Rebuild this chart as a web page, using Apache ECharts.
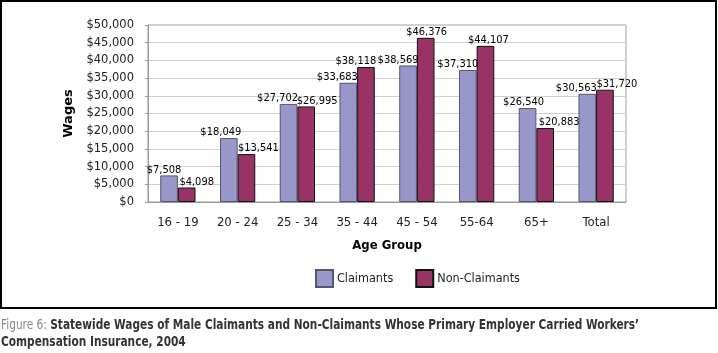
<!DOCTYPE html>
<html><head><meta charset="utf-8">
<script src="https://cdn.jsdelivr.net/npm/echarts@6/dist/echarts.min.js"></script>
<style>html,body{margin:0;padding:0;background:#fff}#c{width:718px;height:353px}</style>
</head><body><div id="c"></div>
<script>
const categories = ['16 - 19','20 - 24','25 - 34','35 - 44','45 - 54','55-64','65+','Total'];
const claimants = [7508,18049,27702,33683,38569,37310,26540,30563];
const nonClaimants = [4098,13541,26995,38118,46376,44107,20883,31720];
const yTicks = [0,5000,10000,15000,20000,25000,30000,35000,40000,45000,50000];
const seriesNames = ['Claimants','Non-Claimants'];

// label nudges (styling only), in px, as placed in the original
const claimLabelShift = [-5,-8,-11,-11,-10,-10,-4,-11];
const nonLabelShift = [10,12,11,-10,1,3,14,12];

const fmt = v => '$' + Number(v).toLocaleString('en-US');
const condensed = '"Liberation Sans Narrow","DejaVu Sans Condensed",sans-serif';
const labelFont = '"DejaVu Sans Condensed",sans-serif';

function withLabels(vals, shifts){
  return vals.map((v,i)=>({value:v,label:{offset:[shifts[i],0]}}));
}

const chart = echarts.init(document.getElementById('c'));
chart.setOption({
  animation:false,
  backgroundColor:'#fff',
  graphic:[
    {type:'rect', shape:{x:1,y:1,width:715,height:307}, style:{fill:'none',stroke:'#000',lineWidth:2}, z:-1},
    {type:'text', x:1, y:317, scaleX:0.84, scaleY:1, style:{
      text:'{g|Figure 6: }{b|Statewide Wages of Male Claimants and Non-Claimants Whose Primary Employer Carried Workers\u2019}\n{b|Compensation Insurance, 2004}',
      rich:{
        g:{fill:'#888', fontFamily:condensed, fontSize:14, lineHeight:17},
        b:{fill:'#333', fontFamily:condensed, fontSize:14, fontWeight:'bold', lineHeight:17}
      }}}
  ],
  grid:{left:148,right:92,top:25,bottom:151,show:true,borderColor:'#a0a0a0',borderWidth:1},
  legend:{left:315,top:269,padding:0,itemWidth:17,itemHeight:17,itemGap:22,icon:'rect',
    data:seriesNames,
    textStyle:{fontFamily:condensed,fontSize:12.5,color:'#222',padding:[0,0,0,-1]}},
  xAxis:{type:'category',data:categories,
    name:'Age Group',nameLocation:'middle',nameGap:37,
    nameTextStyle:{fontFamily:condensed,fontSize:13,fontWeight:'bold',color:'#000'},
    axisLine:{lineStyle:{color:'#999'}},
    axisTick:{length:5,lineStyle:{color:'#999'}},
    axisLabel:{fontFamily:condensed,fontSize:13,color:'#222',margin:14}},
  yAxis:{type:'value',min:yTicks[0],max:yTicks[yTicks.length-1],interval:5000,
    name:'Wages',nameLocation:'middle',nameGap:67,nameRotate:90,
    nameTextStyle:{fontFamily:'"DejaVu Sans",sans-serif',fontSize:13,fontWeight:'bold',color:'#000'},
    axisLine:{show:true,lineStyle:{color:'#999'}},
    axisTick:{show:true,length:3,lineStyle:{color:'#999'}},
    splitLine:{lineStyle:{color:'#d0d0d0'}},
    axisLabel:{formatter:fmt,fontFamily:'"DejaVu Sans",sans-serif',fontSize:11.5,color:'#222',margin:14}},
  series:[
    {name:seriesNames[0],type:'bar',data:withLabels(claimants,claimLabelShift),barGap:'0%',barCategoryGap:'41%',
      itemStyle:{color:'#9797CA',borderColor:'#555570',borderWidth:1},
      label:{show:true,position:'top',distance:0,formatter:p=>fmt(p.value),
        fontFamily:labelFont,fontSize:11,color:'#000'}},
    {name:seriesNames[1],type:'bar',data:withLabels(nonClaimants,nonLabelShift),
      itemStyle:{color:'#993366',borderColor:'#111',borderWidth:1},
      label:{show:true,position:'top',distance:0,formatter:p=>fmt(p.value),
        fontFamily:labelFont,fontSize:11,color:'#000'}}
  ]
});
</script></body></html>
